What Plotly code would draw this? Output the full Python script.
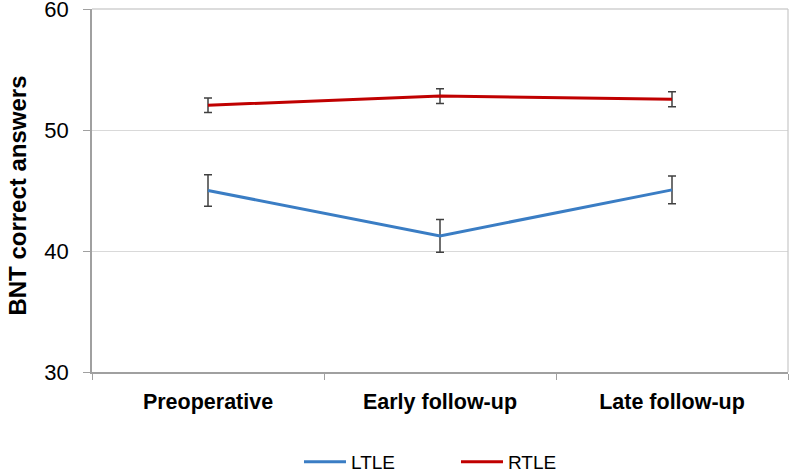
import plotly.graph_objects as go

categories = ["Preoperative", "Early follow-up", "Late follow-up"]
ltle_mean = [45.0, 41.25, 45.05]
ltle_err = [1.3, 1.35, 1.15]
rtle_mean = [52.05, 52.8, 52.55]
rtle_err = [0.6, 0.6, 0.62]
y_ticks = [30, 40, 50, 60]

FONT = "Liberation Sans, Arial, sans-serif"
ERR_COLOR = "#404040"

fig = go.Figure()
fig.add_trace(go.Scatter(
    x=categories, y=ltle_mean, mode="lines", name="LTLE",
    line=dict(color="#3a7dc4", width=3),
    error_y=dict(type="data", array=ltle_err, visible=True,
                 color=ERR_COLOR, thickness=1.5, width=4),
))
fig.add_trace(go.Scatter(
    x=categories, y=rtle_mean, mode="lines", name="RTLE",
    line=dict(color="#c00000", width=3),
    error_y=dict(type="data", array=rtle_err, visible=True,
                 color=ERR_COLOR, thickness=1.5, width=4),
))

fig.update_layout(
    width=789, height=470,
    margin=dict(l=92, r=1, t=9, b=98, autoexpand=False),
    paper_bgcolor="white", plot_bgcolor="white",
    font=dict(family=FONT, color="black"),
    showlegend=True,
    legend=dict(orientation="h", x=0.2974, xanchor="left",
                y=-0.248, yanchor="middle",
                font=dict(size=19, family=FONT),
                itemwidth=42,
                entrywidth=100, entrywidthmode="pixels"),
    xaxis=dict(
        type="category", range=[-0.5, 2.5], automargin=False,
        showline=True, linecolor="#a0a0a0", linewidth=1.5,
        ticks="outside", tickson="boundaries", ticklen=6, tickcolor="#a0a0a0",
        showgrid=False, ticklabelstandoff=9,
        tickfont=dict(size=21.5, family=FONT, weight="bold"),
        mirror=False,
    ),
    yaxis=dict(
        range=[30, 60], tickvals=y_ticks, automargin=False,
        showline=True, linecolor="#a0a0a0", linewidth=1.5,
        ticks="outside", ticklen=7, tickcolor="#a0a0a0",
        showgrid=True, gridcolor="#d9d9d9", gridwidth=1.2,
        tickfont=dict(size=22, family=FONT),
        ticklabelstandoff=10, ticklabeloverflow="allow",
        zeroline=False,
    ),
)

# top border and right border of plot area
fig.add_shape(type="line", xref="paper", yref="paper", x0=0, x1=1, y0=1, y1=1,
              line=dict(color="#d0d0d0", width=1.5))
fig.add_shape(type="line", xref="paper", yref="paper", x0=1, x1=1, y0=0, y1=1,
              line=dict(color="#c8c8c8", width=1.2))

fig.add_annotation(
    text="<b>BNT correct answers</b>", xref="paper", yref="paper",
    x=0, y=0.486, xanchor="center", yanchor="middle", xshift=-74,
    textangle=-90, showarrow=False, font=dict(size=24, family=FONT),
)

fig.write_html("out.html", config={"displayModeBar": False},
               post_script="document.body.style.margin='0';")
